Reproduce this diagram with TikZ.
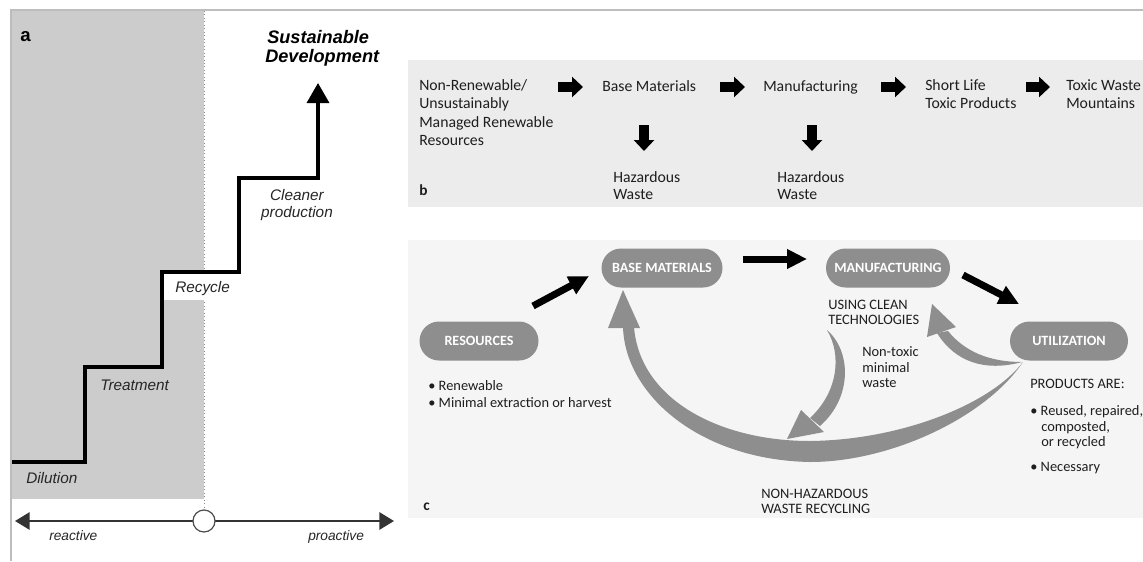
\documentclass[tikz,border=0pt]{standalone}
\usepackage{fontspec}
\setmainfont{Liberation Sans}
\newfontfamily\cf{Carlito}
\usetikzlibrary{arrows.meta,shapes.misc}
\definecolor{frameline}{HTML}{BDBDBD}
\definecolor{shadea}{HTML}{CCCCCC}
\definecolor{bgb}{HTML}{ECECEC}
\definecolor{bgc}{HTML}{F5F5F5}
\definecolor{pillgray}{HTML}{8E8E8E}
\definecolor{txt}{HTML}{1E1E1E}
\begin{document}
\begin{tikzpicture}[x=0.75pt,y=-0.75pt,
  lbla/.style={inner sep=0pt, anchor=base west, font=\fontsize{11.5}{13}\selectfont\itshape, text=black!85},
  lblsmall/.style={inner sep=0pt, anchor=base west, font=\fontsize{10.3}{12}\selectfont\itshape, text=black!85},
  titlea/.style={inner sep=0pt, anchor=base west, font=\fontsize{13.6}{15}\selectfont\bfseries\itshape},
  panel/.style={inner sep=0pt, anchor=base west, font=\fontsize{11}{13}\selectfont\bfseries},
  tb/.style={inner sep=0pt, anchor=base west, font=\cf\fontsize{11.8}{13.9}\selectfont, text=txt},
  tc/.style={inner sep=0pt, anchor=base west, font=\cf\fontsize{10.8}{12.5}\selectfont, text=txt},
  pill/.style={rounded rectangle, fill=pillgray, text=white, inner sep=0pt, minimum height=29.25pt, font=\cf\bfseries\fontsize{10.6}{12}\selectfont},
  blockarrow/.style={line width=7.5pt, -{Triangle[length=8.25pt,width=15pt]}},
  karrow/.style={line width=5.25pt, -{Triangle[length=15pt,width=14pt]}},
  stair/.style={line width=2.6pt, line join=miter, -{Triangle[length=15pt,width=16.5pt]}},
  axisline/.style={line width=1.5pt, draw=black!80, {Triangle[length=11pt,width=13pt]}-{Triangle[length=11pt,width=13pt]}},
  garrow/.style={fill=pillgray}
]
\useasboundingbox (0,0) rectangle (1143,561);
% ---------- frame ----------
\draw[frameline, line width=0.9pt] (11,561) -- (11,10) -- (1143,10);
% ---------- panel a ----------
\fill[shadea] (12,11) rectangle (204,499);
\draw[black!45, dotted, line width=0.6pt] (204,11) -- (204,509);
\fill[white] (163,272) rectangle (232,300);
\draw[stair] (12,462) -- (85,462) -- (85,367) -- (162,367) -- (162,272) -- (239,272) -- (239,178) -- (318,178) -- (318,83);
\node[panel] (la) at (20,41) {\fontsize{14}{16}\selectfont a};
\node[titlea] (sus1) at (267,43) {Sustainable};
\node[titlea] (sus2) at (265,62) {Development};
\node[lbla, anchor=base] (cp1) at (297,200) {Cleaner};
\node[lbla, anchor=base] (cp2) at (297,217) {production};
\node[lbla] (rec) at (175,292) {Recycle};
\node[lbla] (tre) at (100,390) {Treatment};
\node[lbla] (dil) at (26,483) {Dilution};
\coordinate (axl) at (15,521);
\coordinate (axr) at (394,521);
\draw[axisline] (axl) -- (axr);
\node[circle, draw=black!70, fill=white, line width=0.9pt, minimum size=16.5pt, inner sep=0pt] (mid) at (204,521) {};
\node[lblsmall] (rea) at (49,540) {reactive};
\node[lblsmall] (pro) at (308,540) {proactive};
% ---------- panel b ----------
\fill[bgb] (408,60) rectangle (1143,207);
\node[tb] (b11) at (419,90) {Non-Renewable/};
\node[tb] (b12) at (419,108.5) {Unsustainably};
\node[tb] (b13) at (419,127) {Managed Renewable};
\node[tb] (b14) at (419,145.5) {Resources};
\node[tb] (b2) at (602,91) {Base Materials};
\node[tb] (b3) at (763,91) {Manufacturing};
\node[tb] (b41) at (925,90) {Short Life};
\node[tb] (b42) at (925,108.5) {Toxic Products};
\node[tb] (b51) at (1066,90) {Toxic Waste};
\node[tb] (b52) at (1066,108.5) {Mountains};
\node[tb] (h11) at (613,182) {Hazardous};
\node[tb] (h12) at (613,199) {Waste};
\node[tb] (h21) at (777,182) {Hazardous};
\node[tb] (h22) at (777,199) {Waste};
\node[tb, font=\cf\bfseries\fontsize{11.5}{13}\selectfont] (lb) at (419,195) {b};
\coordinate (r1s) at (558,87); \coordinate (r1e) at (583,87);
\coordinate (r2s) at (720,87); \coordinate (r2e) at (745,87);
\coordinate (r3s) at (881,87); \coordinate (r3e) at (906,87);
\coordinate (r4s) at (1026,87); \coordinate (r4e) at (1050,87);
\coordinate (d1s) at (644,125); \coordinate (d1e) at (644,151);
\coordinate (d2s) at (812,125); \coordinate (d2e) at (812,151);
\draw[blockarrow] (r1s) -- (r1e);
\draw[blockarrow] (r2s) -- (r2e);
\draw[blockarrow] (r3s) -- (r3e);
\draw[blockarrow] (r4s) -- (r4e);
\draw[blockarrow] (d1s) -- (d1e);
\draw[blockarrow] (d2s) -- (d2e);
% ---------- panel c ----------
\fill[bgc] (408,240) rectangle (1143,518);
% big recycling arrow
\fill[garrow] (623,327) .. controls (625,395) and (700,460) .. (810,462)
   .. controls (890,462) and (985,418) .. (1023,362)
   .. controls (990,405) and (900,440) .. (810,441)
   .. controls (720,441) and (640,400) .. (634,327) -- cycle;
\fill[garrow] (623,290) -- (608,328) -- (640,328) -- cycle;
% non-toxic waste arrow
\fill[garrow] (827,330) .. controls (852,352) and (852,398) .. (820,426)
   -- (810,418) .. controls (838,392) and (842,355) .. (827,330) -- cycle;
\fill[garrow] (787,439) -- (801,410) -- (824,432) -- cycle;
% utilization -> manufacturing arrow
\fill[garrow] (1022,362) .. controls (985,372) and (955,362) .. (937,333)
   -- (948,331) .. controls (965,352) and (990,362) .. (1022,362) -- cycle;
\fill[garrow] (932,304) -- (927,337) -- (956,327) -- cycle;
% pills
\node[pill, minimum width=90.75pt] (base) at (662,268) {BASE MATERIALS};
\node[pill, minimum width=93pt] (manuf) at (888,268) {MANUFACTURING};
\node[pill, minimum width=88.5pt] (util) at (1069,341) {UTILIZATION};
\node[pill, minimum width=89.25pt] (res) at (479,341) {RESOURCES};
% black arrows
\coordinate (k1s) at (533,306); \coordinate (k1e) at (589,276);
\coordinate (k2s) at (743,259); \coordinate (k2e) at (807,259);
\coordinate (k3s) at (963,275); \coordinate (k3e) at (1019,304);
\draw[karrow] (k1s) -- (k1e);
\draw[karrow] (k2s) -- (k2e);
\draw[karrow] (k3s) -- (k3e);
% texts
\node[tc] (c1) at (428,390) {• Renewable};
\node[tc] (c2) at (428,407) {• Minimal extraction or harvest};
\node[tc] (c3) at (828,309) {USING CLEAN};
\node[tc] (c4) at (828,324) {TECHNOLOGIES};
\node[tc] (c5) at (862,356) {Non-toxic};
\node[tc] (c6) at (862,372) {minimal};
\node[tc] (c7) at (862,387) {waste};
\node[tc] (c8) at (1030,388) {PRODUCTS ARE:};
\node[tc] (c9) at (1030,415) {• Reused, repaired,};
\node[tc] (c10) at (1041,431) {composted,};
\node[tc] (c11) at (1041,446) {or recycled};
\node[tc] (c12) at (1030,471) {• Necessary};
\node[tc] (c13) at (761,498) {NON-HAZARDOUS};
\node[tc] (c14) at (761,513) {WASTE RECYCLING};
\node[tc, font=\cf\bfseries\fontsize{11.5}{13}\selectfont] (lc) at (423,510) {c};
\end{tikzpicture}
\end{document}
